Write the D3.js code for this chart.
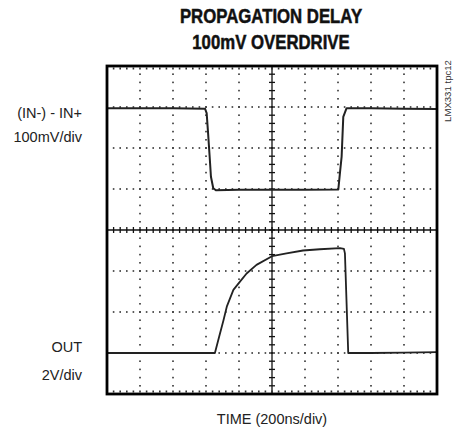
<!DOCTYPE html>
<html><head><meta charset="utf-8">
<script src="https://cdn.jsdelivr.net/npm/d3@7"></script>
<style>
html,body{margin:0;padding:0;background:#fff;}
svg{display:block;}
</style></head>
<body>
<svg id="c" width="461" height="430"></svg>
<script>
// Time in divisions (200ns/div), values in vertical divisions from screen centre
const inTime  = [0, 1, 2, 2.97, 3.02, 3.06, 3.11, 3.15, 3.22, 3.3, 4, 5, 6, 7.01, 7.06, 7.11, 7.16, 7.26, 8, 9, 10];
const inValue = [2.97, 2.97, 2.97, 2.96, 2.85, 2.4, 1.8, 1.3, 1.02, 0.97, 0.98, 0.98, 0.98, 0.99, 1.4, 1.79, 2.76, 2.97, 2.97, 2.96, 2.95];
const outTime  = [0, 1, 2, 3, 3.27, 3.4, 3.53, 3.63, 3.83, 4.03, 4.23, 4.53, 5.0, 5.44, 5.94, 6.45, 7.06, 7.18, 7.21, 7.31, 8, 9, 10];
const outValue = [-3.0, -3.0, -3.0, -3.0, -3.0, -2.6, -2.2, -1.87, -1.46, -1.26, -1.06, -0.85, -0.64, -0.57, -0.5, -0.47, -0.44, -0.46, -0.57, -3.0, -3.0, -2.99, -2.98];
const titleLines = ["PROPAGATION DELAY", "100mV OVERDRIVE"];
const leftLabelsTop = ["(IN-) - IN+", "100mV/div"];
const leftLabelsBottom = ["OUT", "2V/div"];
const xLabel = "TIME (200ns/div)";
const sideNote = "LMX331 tpc12";

const svg = d3.select("#c");
const x = d3.scaleLinear().domain([0, 10]).range([107, 437]);
const y = d3.scaleLinear().domain([-4, 4]).range([394, 66]);

const g = svg.append("g");
const dotColor = "#333";

const hLines = d3.range(-3, 4).filter(v => v !== 0);
const vLines = d3.range(1, 10).filter(v => v !== 5);
const subX = d3.range(0, 51).map(i => i / 5);
const subY = d3.range(0, 41).map(i => -4 + i / 5);

hLines.forEach(v => {
  g.selectAll(null).data(subX).enter().append("rect")
    .attr("x", d => x(d) - 0.8).attr("y", y(v) - 0.8)
    .attr("width", 1.6).attr("height", 1.6).attr("fill", dotColor);
});
vLines.forEach(t => {
  g.selectAll(null).data(subY).enter().append("rect")
    .attr("x", x(t) - 0.8).attr("y", d => y(d) - 0.8)
    .attr("width", 1.6).attr("height", 1.6).attr("fill", dotColor);
});

// centre axes with ticks
g.append("line").attr("x1", x(0)).attr("x2", x(10)).attr("y1", y(0)).attr("y2", y(0))
  .attr("stroke", "#111").attr("stroke-width", 1.3);
g.append("line").attr("x1", x(5)).attr("x2", x(5)).attr("y1", y(-4)).attr("y2", y(4))
  .attr("stroke", "#111").attr("stroke-width", 1.3);
g.selectAll(null).data(subX).enter().append("line")
  .attr("x1", d => x(d)).attr("x2", d => x(d))
  .attr("y1", y(0) - 3).attr("y2", y(0) + 3)
  .attr("stroke", "#111").attr("stroke-width", 1.3);
g.selectAll(null).data(subY).enter().append("line")
  .attr("x1", x(5) - 3).attr("x2", x(5) + 3)
  .attr("y1", d => y(d)).attr("y2", d => y(d))
  .attr("stroke", "#111").attr("stroke-width", 1.3);

// border ticks top & bottom
g.selectAll(null).data(subX).enter().append("rect")
  .attr("x", d => x(d) - 0.8).attr("y", y(4) + 1.5).attr("width", 1.6).attr("height", 2).attr("fill", dotColor);
g.selectAll(null).data(subX).enter().append("rect")
  .attr("x", d => x(d) - 0.8).attr("y", y(-4) - 3.5).attr("width", 1.6).attr("height", 2).attr("fill", dotColor);

// traces
const line = d3.line().x(d => x(d[0])).y(d => y(d[1]));
g.append("path").datum(d3.zip(inTime, inValue)).attr("d", line)
  .attr("fill", "none").attr("stroke", "#222").attr("stroke-width", 2).attr("stroke-linejoin", "round");
g.append("path").datum(d3.zip(outTime, outValue)).attr("d", line)
  .attr("fill", "none").attr("stroke", "#222").attr("stroke-width", 1.8).attr("stroke-linejoin", "round");

// frame
g.append("rect").attr("x", x(0)).attr("y", y(4)).attr("width", x(10) - x(0)).attr("height", y(-4) - y(4))
  .attr("fill", "none").attr("stroke", "#000").attr("stroke-width", 2.8);

// texts
const sans = "'Liberation Sans', Arial, sans-serif";
svg.append("g").selectAll("text").data(titleLines).enter().append("text")
  .attr("transform", (d, i) => `translate(271,${23 + i * 26}) scale(0.86,1)`)
  .attr("text-anchor", "middle")
  .attr("font-family", sans)
  .attr("font-weight", "bold").attr("font-size", 19.5).attr("fill", "#111")
  .attr("stroke", "#111").attr("stroke-width", 0.5)
  .text(d => d);

svg.append("g").selectAll("text").data(leftLabelsTop).enter().append("text")
  .attr("x", 82).attr("y", (d, i) => 118 + i * 24)
  .attr("text-anchor", "end").attr("font-family", sans).attr("font-size", 14.5).attr("fill", "#222")
  .text(d => d);
svg.append("g").selectAll("text").data(leftLabelsBottom).enter().append("text")
  .attr("x", 82).attr("y", (d, i) => 352 + i * 28)
  .attr("text-anchor", "end").attr("font-family", sans).attr("font-size", 14.5).attr("fill", "#222")
  .text(d => d);

svg.append("text").attr("x", 272).attr("y", 424).attr("text-anchor", "middle")
  .attr("font-family", sans).attr("font-size", 14.5).attr("fill", "#222").text(xLabel);

svg.append("text").attr("transform", "translate(451,91) rotate(-90)")
  .attr("text-anchor", "middle").attr("font-family", sans).attr("font-size", 9.6).attr("fill", "#333")
  .text(sideNote);
</script>
</body></html>
